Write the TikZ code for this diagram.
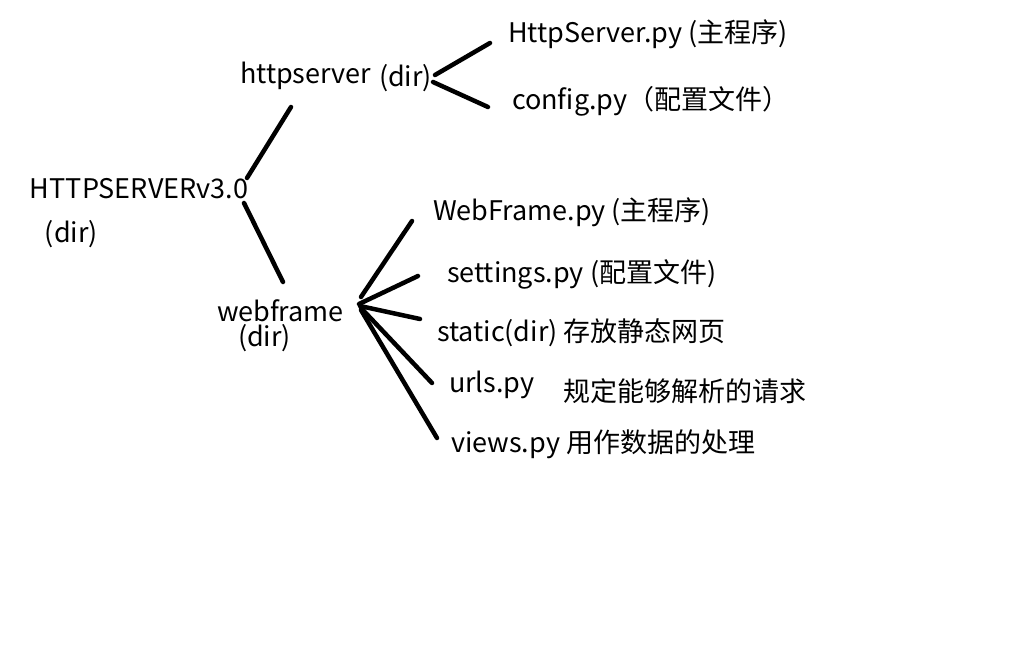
\documentclass[tikz,border=0pt]{standalone}
\usepackage{fontspec}
\usetikzlibrary{calc}
\setmainfont{Noto Sans CJK SC}
\begin{document}
\begin{tikzpicture}[x=1pt,y=-1pt,
  lbl/.style={anchor=base west,inner sep=0pt,outer sep=0pt,font=\fontsize{27}{31}\selectfont},
  link/.style={line width=4.5pt,line cap=round}]
\useasboundingbox[fill=white] (0,0) rectangle (1018,652);
% texts
\node[lbl] (root) at (30,199) {HTTPSERVERv3.0};
\node[lbl] (rootdir) at (45,243) {(dir)};
\node[lbl] (hs) at (240,84) {httpserver};
\node[lbl] (hsdir) at (379,87) {(dir)};
\node[lbl] (hsmain) at (508,43) {HttpServer.py (主程序)};
\node[lbl] (hscfg) at (512,110) {config.py（配置文件）};
\node[lbl] (wf) at (217,322) {webframe};
\node[lbl] (wfdir) at (238,347) {(dir)};
\node[lbl] (wfmain) at (433,221) {WebFrame.py (主程序)};
\node[lbl] (wfset) at (447,283) {settings.py (配置文件)};
\node[lbl] (wfstatic) at (437,342) {static(dir) 存放静态网页};
\node[lbl] (wfurls) at (449,393) {urls.py};
\node[lbl] (wfurlsnote) at (563,402) {规定能够解析的请求};
\node[lbl] (wfviews) at (451,452) {views.py 用作数据的处理};
% connector end points
\coordinate (rootup) at (247,178);
\coordinate (rootdn) at (244,203);
\coordinate (hsdn) at (291,107);
\coordinate (wfup) at (283,282);
\coordinate (hshub1) at (435,75);
\coordinate (hshub2) at (433,82);
\coordinate (hsmainend) at (490,43);
\coordinate (hscfgend) at (488,107);
\coordinate (wfhub) at (360,306);
\coordinate (wfmainend) at (412,221);
\coordinate (wfsetend) at (418,276);
\coordinate (wfstaticend) at (420,319);
\coordinate (wfurlsend) at (432,383);
\coordinate (wfviewsend) at (437,438);
% connectors
\draw[link] (rootup) -- (hsdn);
\draw[link] (rootdn) -- (wfup);
\draw[link] (hshub1) -- (hsmainend);
\draw[link] (hshub2) -- (hscfgend);
\draw[link] ($(wfhub)+(1,-9)$) -- (wfmainend);
\draw[link] ($(wfhub)+(-1,-2)$) -- (wfsetend);
\draw[link] (wfhub) -- (wfstaticend);
\draw[link] ($(wfhub)+(1,2)$) -- (wfurlsend);
\draw[link] ($(wfhub)+(1,4)$) -- (wfviewsend);
\end{tikzpicture}
\end{document}
